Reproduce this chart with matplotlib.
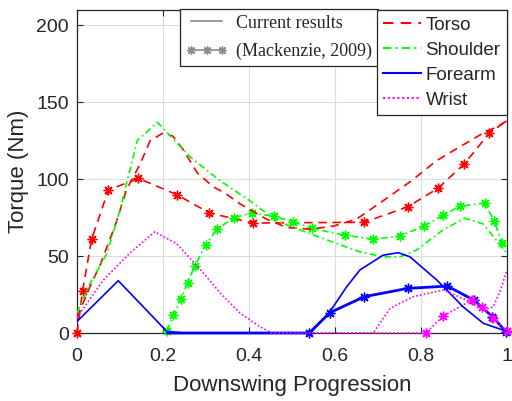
import numpy as np
import matplotlib
matplotlib.use("Agg")
from matplotlib import pyplot as plt
from matplotlib.lines import Line2D

# current results
torso_x = [0, 0.03, 0.055, 0.09, 0.115, 0.147, 0.17, 0.2, 0.223, 0.245, 0.28, 0.317, 0.344,
           0.379, 0.441, 0.488, 0.542, 0.596, 0.65, 0.712, 0.778, 0.836, 0.89, 0.945, 0.976, 1.0]
torso_y = [10, 30, 45, 71, 93, 110, 125, 130, 128, 120, 104, 95, 91,
           84, 74, 68.6, 67.5, 69.5, 74, 86, 99, 112, 121, 130, 134, 138]

shoulder_x = [0, 0.03, 0.07, 0.1, 0.14, 0.187, 0.263, 0.333, 0.402, 0.464, 0.519, 0.596,
              0.658, 0.712, 0.751, 0.79, 0.851, 0.902, 0.944, 0.976, 1.0]
shoulder_y = [13, 32, 52, 80, 125, 137, 114.5, 99, 86, 73, 67, 59,
              52.8, 49.5, 49.5, 54, 67, 74.6, 71, 60, 52]

forearm_x = [0, 0.096, 0.209, 0.25, 0.4, 0.542, 0.588, 0.627, 0.658, 0.712, 0.747, 0.774,
             0.837, 0.898, 0.945, 1.0]
forearm_y = [7.5, 34, 1, 0, 0, 0, 13.8, 30, 41, 50.6, 52.2, 49.6,
             34.4, 17, 6.3, 1]

wrist_x = [0, 0.06, 0.123, 0.181, 0.232, 0.294, 0.333, 0.379, 0.426, 0.453, 0.689, 0.728,
           0.782, 0.852, 0.906, 0.945, 0.968, 0.985, 1.0]
wrist_y = [10, 34, 52, 65.8, 58, 39, 26, 13, 4, 0, 0, 16,
           23.6, 28, 21.4, 15, 17, 28, 41]

# Mackenzie 2009
torso_mk_x = [0, 0.013, 0.034, 0.073, 0.143, 0.232, 0.308, 0.41, 0.668, 0.769, 0.839,
              0.901, 0.959, 1.0]
torso_mk_y = [0, 27.5, 61, 93, 100.5, 90, 78, 71.5, 72, 82, 94, 110, 130, 138]

shoulder_mk_x = [0.21, 0.224, 0.242, 0.257, 0.274, 0.3, 0.325, 0.364, 0.406, 0.457, 0.503,
                 0.546, 0.623, 0.688, 0.75, 0.807, 0.852, 0.891, 0.948, 0.97, 0.988]
shoulder_mk_y = [1.5, 11.7, 22, 32.7, 43.7, 57.5, 67.3, 75, 78, 76, 72.3,
                 68, 63.6, 61, 63, 69.5, 76.6, 82.5, 84.4, 73, 58.8]

forearm_mk_x = [0.21, 0.54, 0.588, 0.668, 0.769, 0.861, 0.923, 0.966, 0.998]
forearm_mk_y = [0, 0, 13.2, 23.6, 29, 30.5, 21.4, 10.6, 0.8]

wrist_mk_x = [0.45, 0.811, 0.852, 0.918, 0.941, 0.968, 1.0]
wrist_mk_y = [0, 0, 11, 21.4, 17, 9.5, 1]

labels = ['Torso', 'Shoulder', 'Forearm', 'Wrist']
colors = ['#ff0000', '#00ff00', '#0000ff', '#ff00ff']
styles = [(0, (5, 3.5)), (0, (4, 2, 1, 2)), '-', (0, (1, 1.3))]

txt = '#262626'
plt.rcParams['font.family'] = ['Liberation Sans', 'DejaVu Sans']
plt.rcParams['text.color'] = txt

fig = plt.figure(figsize=(5.12, 4.01), dpi=100)
ax = fig.add_axes([77/512, 68/401, 430/512, 323/401])

star = (8, 2, 0)
curr = [(torso_x, torso_y), (shoulder_x, shoulder_y), (forearm_x, forearm_y), (wrist_x, wrist_y)]
mack = [(torso_mk_x, torso_mk_y, range(0, len(torso_mk_x) - 1)),
        (shoulder_mk_x, shoulder_mk_y, None),
        (forearm_mk_x, forearm_mk_y, range(1, len(forearm_mk_x))),
        (wrist_mk_x, wrist_mk_y, range(1, len(wrist_mk_x)))]

for i in range(4):
    mx, my, me = mack[i]
    lw = 2.0 if i == 2 else 1.2
    ax.plot(mx, my, color=colors[i], linestyle=styles[i], lw=lw, marker=star,
            markersize=7, markeredgewidth=1.0, markevery=me, clip_on=False, zorder=3)
for i in range(4):
    x, y = curr[i]
    ax.plot(x, y, color=colors[i], linestyle=styles[i], lw=1.2, zorder=4)

ax.set_xlim(0, 1)
ax.set_ylim(0, 210)
ax.set_xticks([0, 0.2, 0.4, 0.6, 0.8, 1])
ax.set_xticklabels(['0', '0.2', '0.4', '0.6', '0.8', '1'])
ax.set_yticks([0, 50, 100, 150, 200])
ax.grid(True, color='#dcdcdc', lw=0.8)
ax.set_axisbelow(True)
for s in ax.spines.values():
    s.set_color(txt)
    s.set_linewidth(0.9)
ax.tick_params(direction='in', length=4, width=0.8, colors=txt, labelsize=14,
               top=True, right=True)
ax.tick_params(axis='x', pad=11)
ax.tick_params(axis='y', pad=6)
ax.set_xlabel('Downswing Progression', fontsize=16, color=txt, labelpad=7)
ax.set_ylabel('Torque (Nm)', fontsize=16, color=txt, labelpad=5)

# source legend
gray = '#8c8c8c'
h1 = [Line2D([], [], color=gray, lw=1.2),
      Line2D([], [], color=gray, lw=1.2, marker=star, markersize=6, markeredgewidth=1.0)]
leg1 = ax.legend(h1, ['Current results', '(Mackenzie, 2009)'], loc='upper left',
                 bbox_to_anchor=(180/512, 1 - 9/401), bbox_transform=fig.transFigure,
                 borderaxespad=0, numpoints=3, handlelength=2.3, handletextpad=0.5,
                 labelspacing=0.62, borderpad=0.32, fancybox=False, framealpha=1,
                 edgecolor=txt, prop={'family': 'Liberation Serif', 'size': 13})
leg1.get_frame().set_linewidth(0.9)
ax.add_artist(leg1)

# segment legend
h2 = [Line2D([], [], color=colors[i], linestyle=styles[i], lw=1.5) for i in range(4)]
leg2 = ax.legend(h2, labels, loc='upper right',
                 bbox_to_anchor=(507/512, 1 - 10/401), bbox_transform=fig.transFigure,
                 borderaxespad=0, handlelength=2.0, handletextpad=0.25,
                 labelspacing=0.42, borderpad=0.35, fancybox=False, framealpha=1,
                 edgecolor=txt, fontsize=13.5)
leg2.get_frame().set_linewidth(0.9)

fig.savefig('out.png', dpi=100)
